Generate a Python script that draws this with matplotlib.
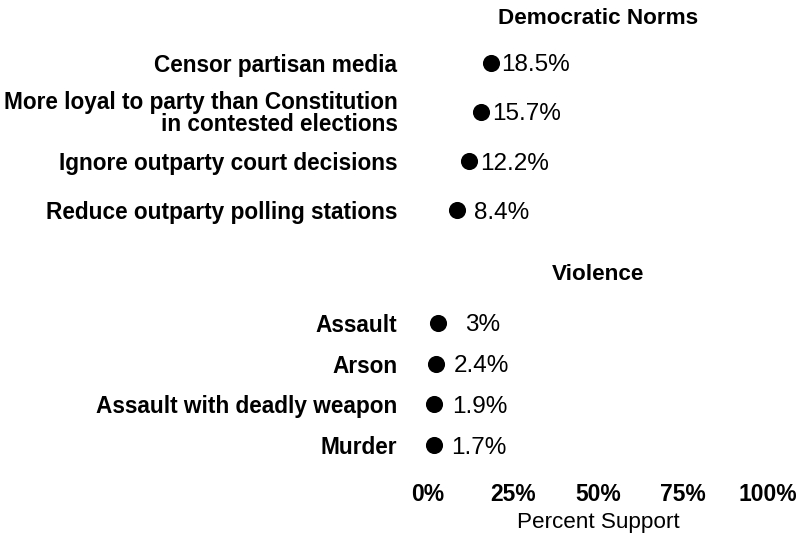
import matplotlib
matplotlib.use("Agg")
import matplotlib.pyplot as plt

plt.rcParams['font.family'] = ['Liberation Sans', 'DejaVu Sans']

# Data
norm_items = ['Censor partisan media',
              'More loyal to party than Constitution\nin contested elections',
              'Ignore outparty court decisions',
              'Reduce outparty polling stations']
norm_vals = [18.5, 15.7, 12.2, 8.4]
norm_text = ['18.5%', '15.7%', '12.2%', '8.4%']

viol_items = ['Assault', 'Arson', 'Assault with deadly weapon', 'Murder']
viol_vals = [3, 2.4, 1.9, 1.7]
viol_text = ['3%', '2.4%', '1.9%', '1.7%']

xticks = [0, 25, 50, 75, 100]
xtick_labels = ['0%', '25%', '50%', '75%', '100%']

W, H = 802, 539
fig = plt.figure(figsize=(W / 100, H / 100), dpi=100)

left = 428 / W
width = 340 / W
ax1 = fig.add_axes([left, (H - 235) / H, width, 197 / H])
ax2 = fig.add_axes([left, (H - 465.5) / H, width, 163 / H])

def panel(ax, items, vals, texts, title, title_pad):
    n = len(items)
    ys = list(range(n, 0, -1))
    ax.plot(vals, ys, 'o', color='black', markersize=11.3, clip_on=False)
    for v, y, t in zip(vals, ys, texts):
        ax.text(v + 13.2, y, t, ha='center', va='center_baseline',
                fontsize=17.5, color='black')
    ax.set_xlim(0, 100)
    ax.set_ylim(0.5, n + 0.5)
    ax.set_yticks(ys)
    ax.set_yticklabels(items, fontsize=16.3, fontweight='bold',
                       linespacing=0.95)
    ax.tick_params(axis='y', length=0, pad=22)
    for s in ax.spines.values():
        s.set_visible(False)
    ax.set_title(title, fontsize=16.2, fontweight='bold', pad=title_pad)

panel(ax1, norm_items, norm_vals, norm_text, 'Democratic Norms', 10)
panel(ax2, viol_items, viol_vals, viol_text, 'Violence', 16.5)

ax1.set_xticks([])
ax2.set_xticks(xticks)
ax2.set_xticklabels(xtick_labels, fontsize=16.5, fontweight='bold')
ax2.tick_params(axis='x', length=0, pad=12.5)
ax2.set_xlabel('Percent Support', fontsize=16.2, labelpad=4.5)

fig.savefig('out.png', dpi=100)
